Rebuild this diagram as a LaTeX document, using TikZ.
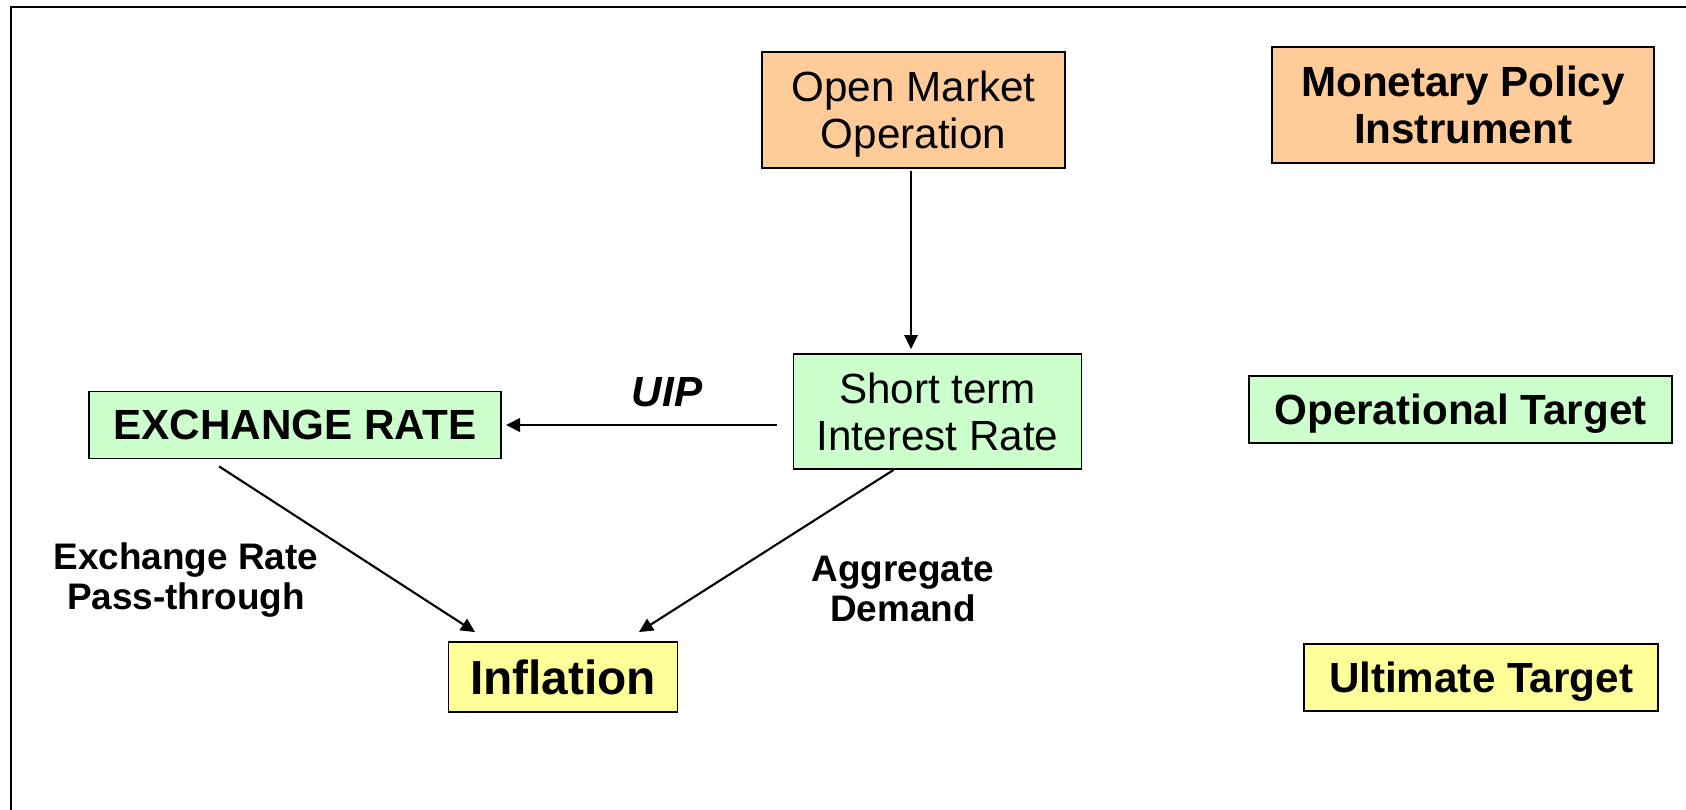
\documentclass[tikz,border=0pt]{standalone}
\usepackage{fontspec}
\setmainfont{Liberation Sans}
\usepackage{xcolor}
\usetikzlibrary{arrows.meta, positioning}
\definecolor{instrorange}{RGB}{255,204,153}
\definecolor{opgreen}{RGB}{204,255,204}
\definecolor{ultyellow}{RGB}{255,255,153}

\begin{document}
\begin{tikzpicture}[
    x=0.01cm, y=-0.01cm,
    box/.style={draw, line width=0.5pt, inner sep=0pt, text depth=0pt, align=center, font=\fontsize{12}{13.4}\selectfont},
    bbox/.style={box, font=\fontsize{12}{13.4}\selectfont\bfseries},
    instr/.style={fill=instrorange},
    optgt/.style={fill=opgreen},
    ultgt/.style={fill=ultyellow},
    arr/.style={-{Triangle[length=4pt, width=3.8pt]}, line width=0.6pt},
    lbl/.style={font=\fontsize{10.5}{11.2}\selectfont\bfseries, align=center},
  ]
  \useasboundingbox (0,0) rectangle (1686,810);
  \draw[line width=0.6pt] (11,810) |- (1686,7);
  \node[box, instr, minimum width=3.03cm, minimum height=1.16cm] (omo) at (913.5,110) {Open Market\\Operation};
  \node[bbox, instr, minimum width=3.82cm, minimum height=1.16cm] (mpi) at (1463,105) {Monetary Policy\\Instrument};
  \node[box, optgt, minimum width=2.88cm, minimum height=1.15cm] (stir) at (937.5,411.5) {Short term\\Interest Rate};
  \node[bbox, optgt, minimum width=4.23cm, minimum height=0.67cm] (opt) at (1460.5,409.5) {Operational Target};
  \node[bbox, optgt, minimum width=4.12cm, minimum height=0.67cm] (exch) at (295,425) {EXCHANGE RATE};
  \node[bbox, ultgt, font=\fontsize{13.6}{15}\selectfont\bfseries, minimum width=2.29cm, minimum height=0.70cm] (infl) at (563,677) {Inflation};
  \node[bbox, ultgt, minimum width=3.54cm, minimum height=0.67cm] (ult) at (1481,677.5) {Ultimate Target};
  \node[font=\fontsize{12}{13.4}\selectfont\bfseries\itshape] (uip) at (667,392) {UIP};
  \node[lbl] (erpt) at (186,580) {Exchange Rate\\Pass-through};
  \node[lbl] (agd) at (903,589) {Aggregate\\Demand};
  \draw[arr, shorten <=0.02cm, shorten >=0.04cm] ([xshift=-0.025cm]omo.south) -- ([xshift=-0.025cm]omo.south |- stir.north);
  \draw[arr, line width=0.85pt, shorten <=0.16cm, shorten >=0.04cm] (stir.west |- exch.east) -- (exch.east);
  \draw[arr] ([xshift=1.31cm, yshift=-0.07cm]exch.south west) -- ([xshift=0.275cm, yshift=0.09cm]infl.north west);
  \draw[arr] ([xshift=1.01cm]stir.south west) -- ([xshift=-0.395cm, yshift=0.09cm]infl.north east);
\end{tikzpicture}
\end{document}
